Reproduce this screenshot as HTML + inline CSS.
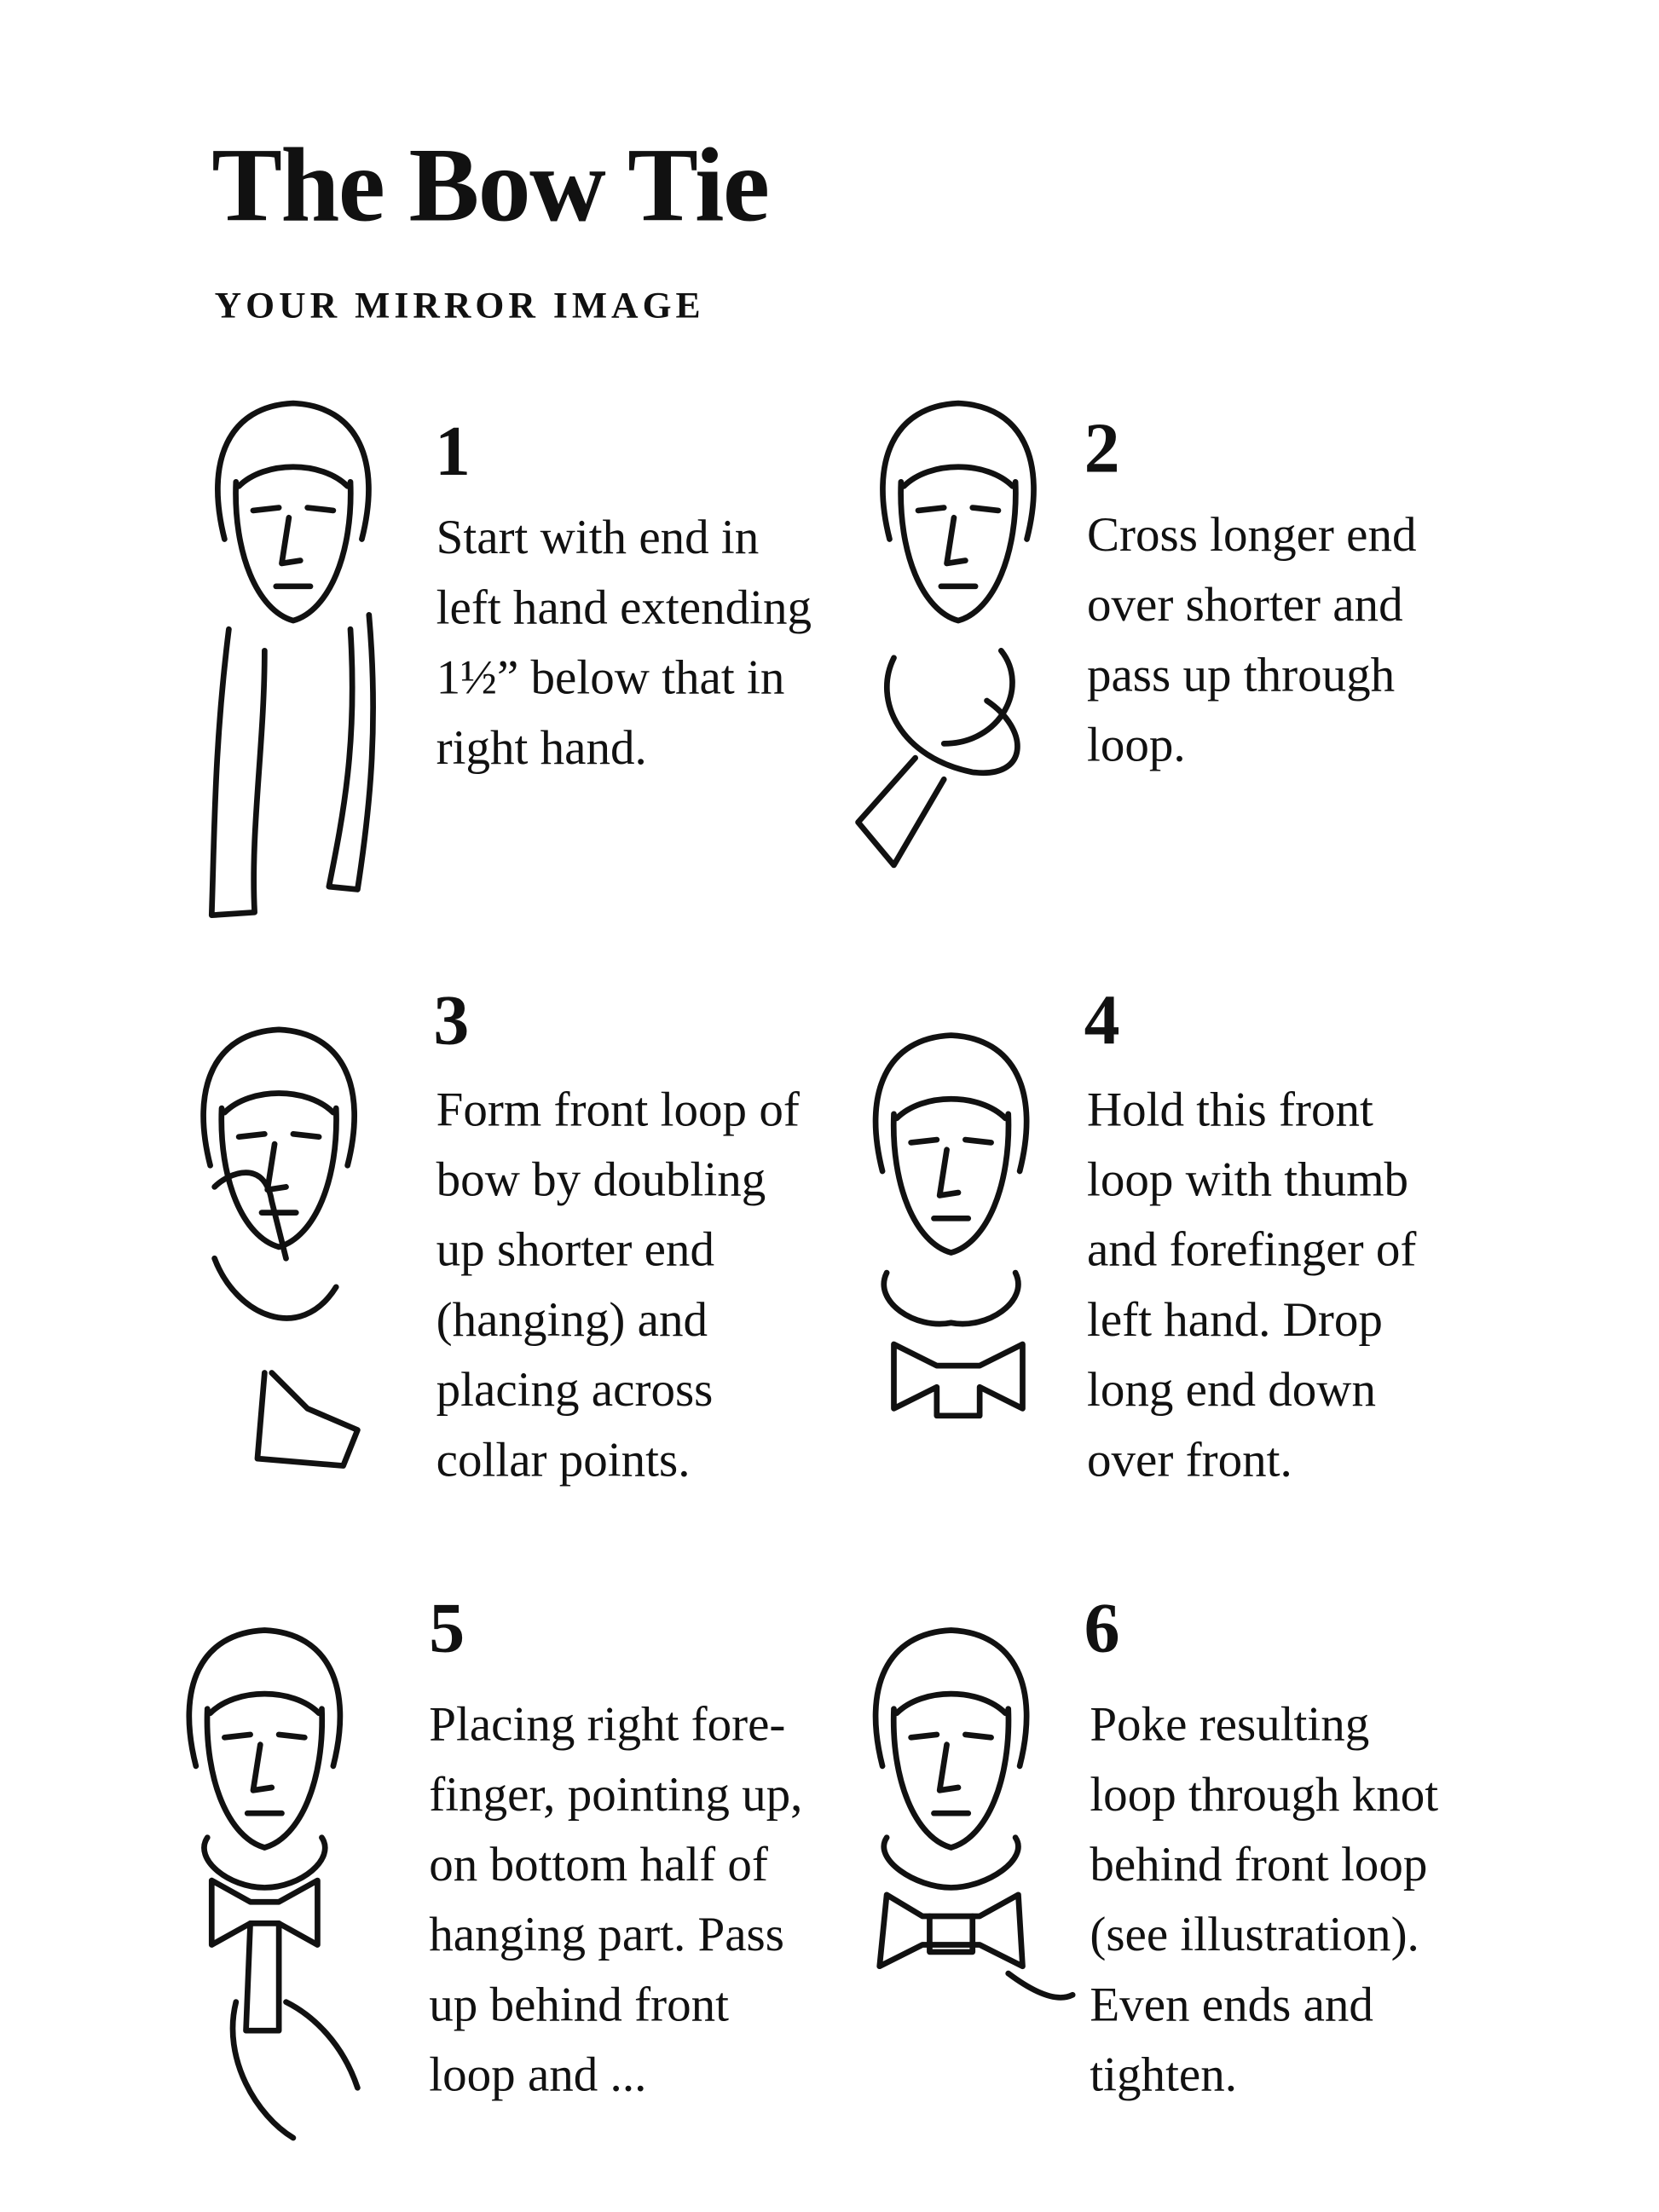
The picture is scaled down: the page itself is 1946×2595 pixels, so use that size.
<!DOCTYPE html>
<html><head><meta charset="utf-8"><style>
html,body{margin:0;padding:0;background:#fff;}
body{width:1946px;height:2595px;overflow:hidden;position:relative;}
#w{position:absolute;left:0;top:0;width:1160px;height:1547px;transform:scale(1.6776);transform-origin:0 0;font-family:"Liberation Serif",serif;color:#111;}
.t{position:absolute;font-size:34px;line-height:49px;white-space:nowrap;}
.n{position:absolute;font-size:50px;font-weight:bold;line-height:50px;}
svg{position:absolute;left:0;top:0;}
</style></head><body><div id="w">
<div style="position:absolute;left:148px;top:90px;font-size:74px;font-weight:bold;letter-spacing:-1px;line-height:80px;">The Bow Tie</div>
<div style="position:absolute;left:150px;top:198px;font-size:26px;font-weight:bold;letter-spacing:3px;line-height:32px;">YOUR MIRROR IMAGE</div>

<div class="n" style="left:304px;top:290px">1</div>
<div class="t" style="left:305px;top:352px">Start with end in<br>left hand extending<br>1½” below that in<br>right hand.</div>
<div class="n" style="left:758px;top:288px">2</div>
<div class="t" style="left:760px;top:350px">Cross longer end<br>over shorter and<br>pass up through<br>loop.</div>
<div class="n" style="left:303px;top:688px">3</div>
<div class="t" style="left:305px;top:752px">Form front loop of<br>bow by doubling<br>up shorter end<br>(hanging) and<br>placing across<br>collar points.</div>
<div class="n" style="left:758px;top:688px">4</div>
<div class="t" style="left:760px;top:752px">Hold this front<br>loop with thumb<br>and forefinger of<br>left hand. Drop<br>long end down<br>over front.</div>
<div class="n" style="left:300px;top:1113px">5</div>
<div class="t" style="left:300px;top:1182px">Placing right fore-<br>finger, pointing up,<br>on bottom half of<br>hanging part. Pass<br>up behind front<br>loop and ...</div>
<div class="n" style="left:758px;top:1113px">6</div>
<div class="t" style="left:762px;top:1182px">Poke resulting<br>loop through knot<br>behind front loop<br>(see illustration).<br>Even ends and<br>tighten.</div>

<svg width="1160" height="1547" viewBox="0 0 1160 1547" fill="none" stroke="#111" stroke-width="4" stroke-linecap="round" stroke-linejoin="round">
<defs>
<g id="h">
<path d="M-48,95 C-62,40 -45,2 0,0 C45,2 62,40 48,95"/>
<path d="M-40,55 C-42,105 -25,145 0,152 C25,145 42,105 40,55"/>
<path d="M-38,58 C-20,40 20,40 38,58"/>
<path d="M-28,75 L-10,73 M10,73 L28,75"/>
<path d="M-3,80 L-8,112 L5,110"/>
<path d="M-12,128 L12,128"/>
</g>
</defs>
<use href="#h" x="205" y="282"/>
<path d="M160,440 C150,520 150,580 148,640 L178,638 C175,580 185,520 185,455"/>
<path d="M245,440 C250,520 240,570 230,620 L250,622 C258,570 265,510 258,430"/>
<use href="#h" x="670" y="282"/>
<path d="M625,460 C610,490 630,530 680,540 C720,545 720,510 690,490 M700,455 C720,480 700,520 660,520"/>
<path d="M640,530 L600,575 L625,605 L660,545"/>
<use href="#h" x="195" y="720"/>
<path d="M150,830 C160,820 185,810 190,840 L200,880 M150,880 C165,920 210,940 235,900"/>
<path d="M185,960 L180,1020 L240,1025 L250,1000 L215,985 L190,960"/>
<use href="#h" x="665" y="724"/>
<path d="M620,890 C610,910 640,930 665,925 C690,930 720,910 710,890"/>
<path d="M625,940 L625,985 L655,970 L655,990 L685,990 L685,970 L715,985 L715,940 L685,955 L655,955 Z"/>
<use href="#h" x="185" y="1140"/>
<path d="M145,1285 C135,1300 160,1320 185,1320 C210,1320 235,1300 225,1285"/>
<path d="M148,1315 L148,1360 L175,1345 L195,1345 L222,1360 L222,1315 L195,1330 L175,1330 Z"/>
<path d="M175,1345 L172,1420 L195,1420 L195,1345"/>
<path d="M165,1400 C155,1440 180,1480 205,1495 M200,1400 C220,1410 240,1430 250,1460"/>
<use href="#h" x="665" y="1140"/>
<path d="M620,1285 C610,1300 640,1320 665,1320 C690,1320 720,1300 710,1285"/>
<path d="M620,1325 L615,1375 L645,1360 L685,1360 L715,1375 L712,1325 L685,1340 L645,1340 Z"/>
<path d="M650,1340 L650,1365 L680,1365 L680,1340"/>
<path d="M705,1380 C725,1395 740,1400 750,1395"/>
</svg>
</div></body></html>
